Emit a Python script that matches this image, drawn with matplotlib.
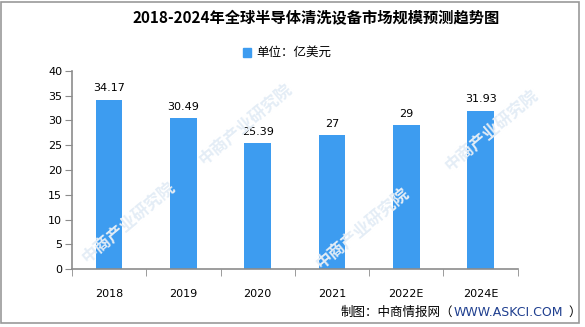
import numpy as np
import matplotlib.pyplot as plt
from matplotlib.patches import Rectangle

plt.rcParams['font.family'] = ['Noto Sans CJK SC', 'DejaVu Sans']

years = ['2018', '2019', '2020', '2021', '2022E', '2024E']
values = [34.17, 30.49, 25.39, 27, 29, 31.93]
value_labels = ['34.17', '30.49', '25.39', '27', '29', '31.93']
yticks = [0, 5, 10, 15, 20, 25, 30, 35, 40]

bar_color = '#3d9cf0'
axis_color = '#8c8c8c'

fig = plt.figure(figsize=(5.85, 3.27), dpi=100)
ax = fig.add_axes([0.123, 0.177, 0.762, 0.606])

# faint watermark text behind the chart
for (wx, wy) in [(0.42, 0.62), (0.84, 0.6), (0.22, 0.32), (0.62, 0.3)]:
    fig.text(wx, wy, '中商产业研究院', fontsize=12, color='#e4edf6', rotation=40,
             ha='center', va='center', fontweight='bold', zorder=0)

x = np.arange(len(years))
ax.bar(x, values, width=0.36, color=bar_color, zorder=2)
for xi, v, lab in zip(x, values, value_labels):
    ax.text(xi, v + 1.3, lab, ha='center', va='bottom', fontsize=8, family='DejaVu Sans')

ax.set_xlim(-0.5, len(years) - 0.5)
ax.set_ylim(0, 40)
ax.set_yticks(yticks)
ax.set_yticklabels([str(t) for t in yticks], fontsize=8, family='DejaVu Sans')
ax.set_xticks(x)
ax.set_xticklabels(years, fontsize=8, family='DejaVu Sans')
ax.set_xticks(np.arange(len(years) + 1) - 0.5, minor=True)
ax.tick_params(axis='x', which='major', length=0, pad=14)
ax.tick_params(axis='x', which='minor', length=5, color=axis_color, direction='out')
ax.tick_params(axis='y', length=5, color=axis_color, pad=2)
for s in ['top', 'right']:
    ax.spines[s].set_visible(False)
for s in ['left', 'bottom']:
    ax.spines[s].set_color(axis_color)
    ax.spines[s].set_linewidth(1.2)
ax.patch.set_alpha(0)

fig.text(0.54, 0.945, '2018-2024年全球半导体清洗设备市场规模预测趋势图', ha='center', va='center',
         fontsize=11, fontweight='bold')

# legend
fig.patches.append(Rectangle((243 / 585, 1 - 57 / 327), 8 / 585, 9 / 327,
                             transform=fig.transFigure, color=bar_color))
fig.text(256 / 585, 1 - 52 / 327, '单位：亿美元', ha='left', va='center', fontsize=9)

# source
fig.text(0.775, 0.045, '制图：中商情报网（', ha='right', va='center', fontsize=9)
fig.text(0.775, 0.045, 'WWW.ASKCI.COM', ha='left', va='center', fontsize=9,
         color='#1f3f8f', family='DejaVu Sans')
fig.text(0.972, 0.045, '）', ha='left', va='center', fontsize=9)

# outer frame
fig.patches.append(Rectangle((0.002, 0.012), 0.988, 0.982, transform=fig.transFigure,
                             fill=False, edgecolor='#999999', linewidth=1.2))

fig.savefig('out.png', dpi=100)
